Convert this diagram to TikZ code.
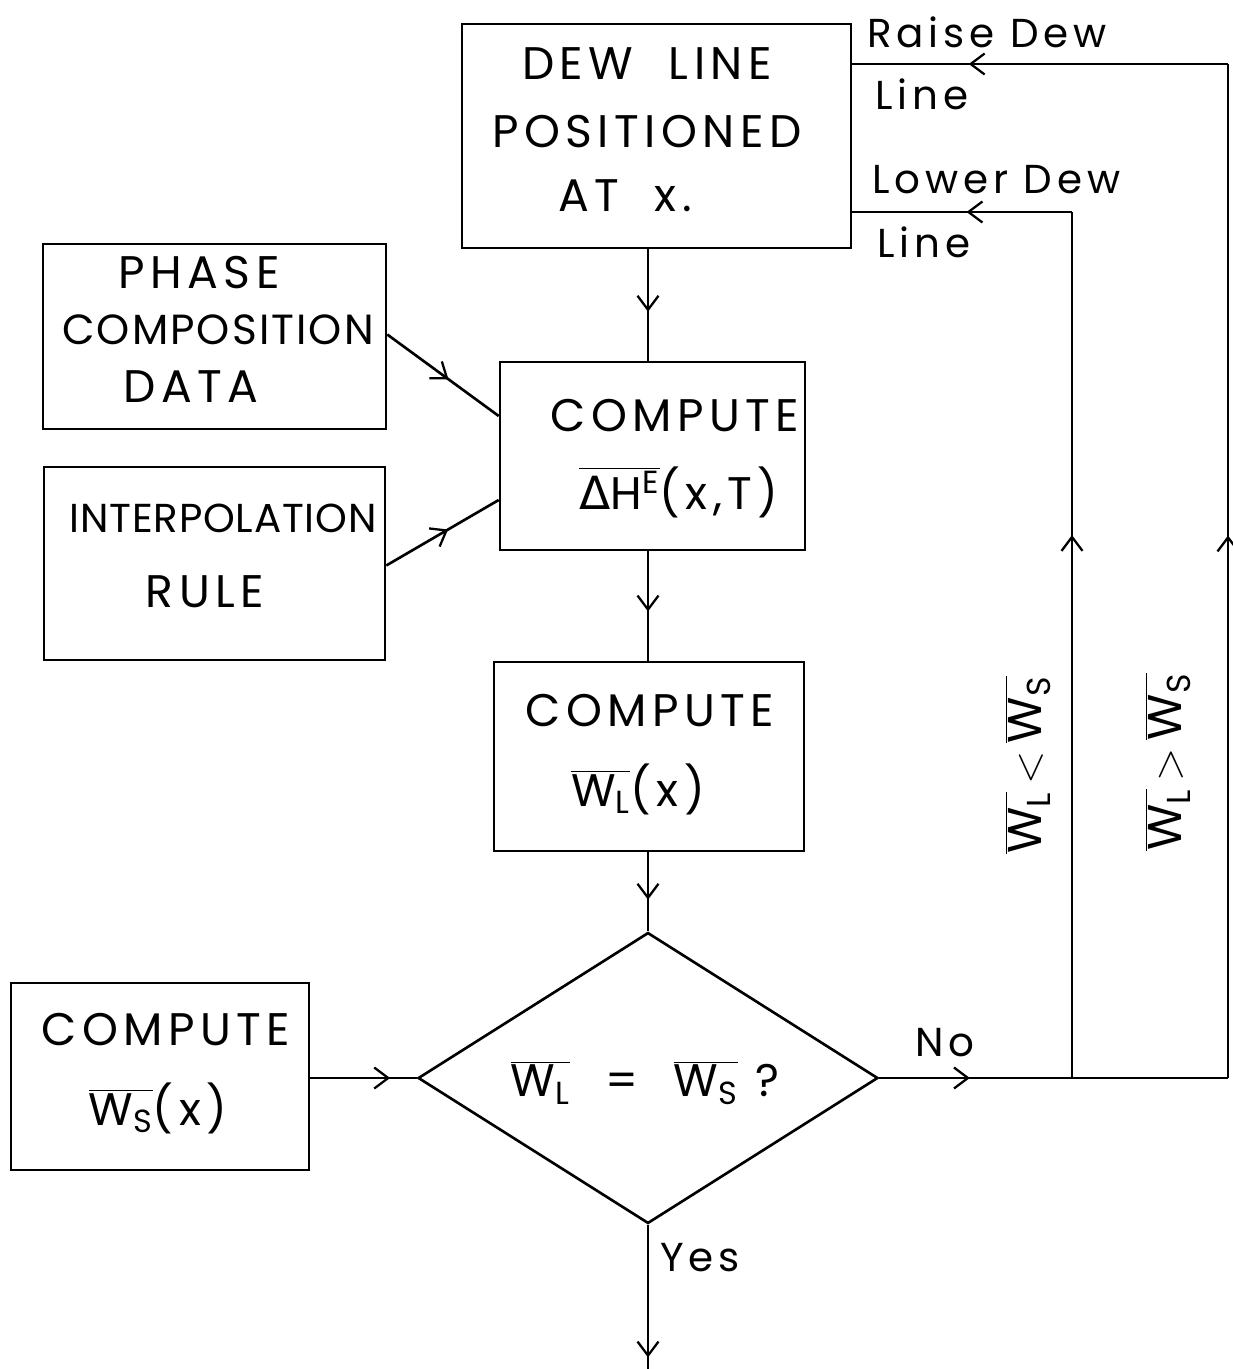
\documentclass[tikz,border=0pt]{standalone}
\usepackage{fontspec}
\setmainfont[LetterSpace=12]{Poppins}
\newfontfamily\grk{DejaVu Sans}
\usetikzlibrary{shapes.geometric,arrows.meta,decorations.markings}
\newcommand\ovl[1]{$\overline{\mbox{#1}}$}
\tikzset{
  box/.style={draw,line width=1.5pt,inner sep=0pt},
  lbl/.style={inner sep=0pt,font=\fontsize{26}{30}\selectfont},
  slbl/.style={inner sep=0pt,font=\fontsize{23}{27}\selectfont},
  ln/.style={line width=1.5pt},
  midarr/.style={ln,postaction={decorate},decoration={markings,mark=at position #1 with {\arrow{Straight Barb[length=0.28cm,width=0.42cm,line width=1.3pt]}}}}
}
\begin{document}
\begin{tikzpicture}[x=0.02cm,y=-0.02cm]
\useasboundingbox[fill=white] (0,0) rectangle (1233,1369);
% boxes
\node[box,minimum width=7.78cm,minimum height=4.48cm] (dew) at (656.5,136) {};
\node[box,minimum width=6.86cm,minimum height=3.70cm] (phase) at (214.5,336.5) {};
\node[box,minimum width=6.82cm,minimum height=3.86cm] (interp) at (214.5,563.5) {};
\node[box,minimum width=6.10cm,minimum height=3.76cm] (dh) at (652.5,456) {};
\node[box,minimum width=6.20cm,minimum height=3.78cm] (wl) at (649,756.5) {};
\node[box,minimum width=5.96cm,minimum height=3.74cm] (ws) at (160,1076.5) {};
\node[box,shape=diamond,minimum width=9.2cm,minimum height=5.82cm] (dia) at (648,1078) {};
% texts
\node[lbl] (t1) at (647,64) {DEW\ \ LINE};
\node[lbl] (t2) at (647,132) {POSITIONED};
\node[lbl] (t3) at (625,196) {AT\ \ x.};
\node[lbl] (t4) at (199,273) {PHASE};
\node[lbl,font=\fontsize{24}{28}\selectfont\addfontfeatures{LetterSpace=5}] (t5) at (218,330) {COMPOSITION};
\node[lbl] (t6) at (191,387) {DATA};
\node[lbl,font=\fontsize{23}{28}\selectfont\addfontfeatures{LetterSpace=2}] (t7) at (223,518) {INTERPOLATION};
\node[lbl] (t8) at (205,592) {RULE};
\node[lbl] (t9) at (675,416) {COMPUTE};
\node[lbl] (t10) at (679,492) {\ovl{{\grk Δ}H\textsuperscript{E}}(x,T)};
\node[lbl] (t11) at (650,711) {COMPUTE};
\node[lbl] (t12) at (638,789) {\ovl{W\textsubscript{L}}(x)};
\node[lbl] (t13) at (166,1030) {COMPUTE};
\node[lbl] (t14) at (158,1108) {\ovl{W\textsubscript{S}}(x)};
\node[lbl] (t15) at (645,1083) {\ovl{W\textsubscript{L}}\ \ =\ \ \ovl{W\textsubscript{S}}\ ?};
\node[slbl,anchor=west] (t16) at (867,32) {Raise\ Dew};
\node[slbl,anchor=west] (t17) at (875,94) {Line};
\node[slbl,anchor=west] (t18) at (872,180) {Lower\ Dew};
\node[slbl,anchor=west] (t19) at (877,242) {Line};
\node[slbl] (t20) at (945,1043) {No};
\node[slbl] (t21) at (700,1258) {Yes};
\node[lbl,rotate=90,font=\fontsize{27}{31}\selectfont] (t22) at (1028,765) {\ovl{W\textsubscript{L}}\,$<$\,\ovl{W\textsubscript{S}}};
\node[lbl,rotate=90,font=\fontsize{27}{31}\selectfont] (t23) at (1168,762) {\ovl{W\textsubscript{L}}\,$>$\,\ovl{W\textsubscript{S}}};
% coordinates
\coordinate (j1) at (1072,1078);
\coordinate (j2) at (1228,1078);
\coordinate (c1) at (1072,212);
\coordinate (c2) at (1228,64);
\coordinate (endp) at (648,1369);
% connectors
\draw[midarr=0.56] (dew.south -| dia.north) -- (dh.north -| dia.north);
\draw[midarr=0.55] (dh.south -| dia.north) -- (wl.north -| dia.north);
\draw[midarr=0.6] (wl.south -| dia.north) -- (dia.north);
\draw[midarr=0.75] (ws.east |- dia.west) -- (dia.west);
\draw[midarr=0.55] ([yshift=0.04cm]phase.east) -- ([yshift=0.8cm]dh.west);
\draw[midarr=0.55] ([yshift=-0.04cm]interp.east) -- ([yshift=-0.88cm]dh.west);
\draw[midarr=0.92] (dia.south) -- (endp);
\draw[midarr=0.47] (dia.east) -- (j1);
\draw[ln] (j1) -- (j2);
\draw[midarr=0.627] (j1) -- (c1);
\draw[midarr=0.48] (c1) -- (c1 -| dew.east);
\draw[midarr=0.535] (j2) -- (c2);
\draw[midarr=0.69] (c2) -- (c2 -| dew.east);
\end{tikzpicture}
\end{document}
